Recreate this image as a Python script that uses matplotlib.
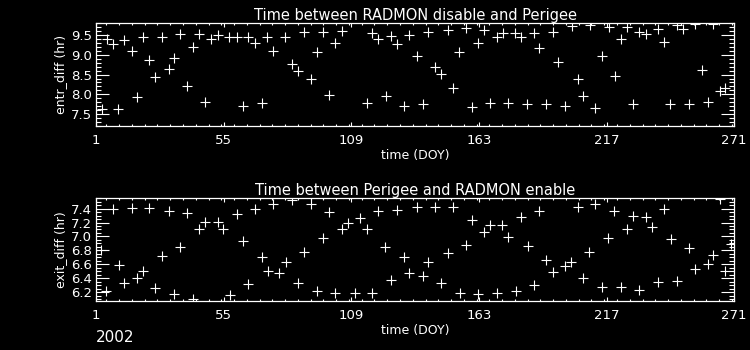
"""RADMON disable/enable timing vs perigee, 2002"""
import numpy as np, matplotlib
matplotlib.use('Agg')
import matplotlib.pyplot as plt
from matplotlib.ticker import MultipleLocator, FixedLocator

# ── data (DOY, hours) ──
entr_doy = [3.4, 5.5, 8.1, 10.4, 13.0, 16.1, 18.5, 21.0, 23.6, 26.1, 29.1, 31.8, 34.1, 36.7, 39.4, 42.2,
            44.7, 47.3, 49.8, 52.6, 57.4, 60.5, 63.1, 65.3, 68.2, 71.1, 73.5, 76.0, 81.0, 84.1, 86.6, 89.2,
            91.9, 94.4, 97.2, 99.7, 102.3, 105.0, 115.5, 117.8, 120.5, 123.5, 126.0, 128.5, 131.2, 133.6,
            136.7, 139.3, 141.6, 144.2, 146.8, 149.8, 152.2, 154.7, 157.4, 160.0, 162.5, 165.3, 167.7,
            170.5, 173.1, 175.5, 178.3, 180.7, 183.5, 186.1, 188.6, 191.4, 194.3, 196.6, 199.2, 202.3,
            204.7, 207.2, 210.1, 212.2, 215.0, 218.2, 220.4, 223.0, 225.6, 228.0, 230.8, 233.6, 238.7,
            241.3, 243.9, 246.8, 249.3, 251.7, 254.2, 257.3, 259.7, 262.2, 264.8, 267.2]
entr_diff = [7.62, 9.39, 9.27, 7.62, 9.37, 9.09, 7.94, 9.46, 8.88, 8.44, 9.46, 8.63, 8.93, 9.52, 8.21, 9.20,
             9.52, 7.80, 9.39, 9.49, 9.44, 9.44, 7.71, 9.46, 9.30, 7.77, 9.46, 9.09, 9.46, 8.77, 8.59, 9.57,
             8.40, 9.06, 9.57, 7.99, 9.29, 9.61, 7.77, 9.54, 9.39, 7.95, 9.48, 9.26, 7.71, 9.50,
             8.97, 7.75, 9.58, 8.68, 8.51, 9.63, 8.15, 9.06, 9.67, 7.67, 9.29, 9.63, 7.77,
             9.44, 9.56, 7.77, 9.56, 9.46, 7.75, 9.56, 9.16, 7.75, 9.58, 8.81, 7.71, 9.73,
             8.38, 7.96, 9.75, 7.66, 8.97, 9.71, 8.46, 9.39, 9.71, 7.75, 9.58, 9.52, 9.64,
             9.33, 7.75, 9.74, 9.65, 7.75, 9.78, 8.61, 7.80, 9.78, 8.09, 8.15]

exit_doy = [3.0, 5.2, 8.1, 10.6, 13.0, 16.1, 18.5, 21.0, 23.6, 26.1, 29.1, 31.8, 34.1, 36.7, 39.4, 42.2,
            44.7, 47.3, 52.4, 54.9, 57.7, 60.5, 63.1, 65.5, 68.2, 71.1, 73.6, 76.0, 78.6, 81.3, 84.1, 86.6,
            89.2, 91.9, 94.4, 97.2, 99.7, 102.3, 105.0, 107.5, 110.4, 112.7, 115.5, 117.8, 120.5, 123.4,
            126.0, 128.5, 131.2, 133.6, 136.6, 139.2, 141.5, 144.2, 146.8, 149.7, 152.2, 155.0, 157.4,
            160.0, 162.5, 165.3, 167.7, 170.5, 172.6, 175.5, 178.6, 180.8, 183.6, 186.4, 188.6, 191.4,
            194.3, 199.2, 202.0, 204.7, 207.2, 209.7, 212.2, 215.0, 217.8, 220.3, 223.0, 225.6, 228.1,
            230.9, 233.6, 236.0, 238.7, 241.3, 244.1, 246.8, 251.7, 254.2, 259.7, 262.2, 265.1, 267.2, 269.7]
exit_diff = [6.81, 6.22, 7.39, 6.59, 6.34, 7.41, 6.40, 6.50, 7.41, 6.26, 6.72, 7.36, 6.18, 6.85, 7.33, 6.10,
             7.10, 7.21, 7.21, 7.10, 6.16, 7.32, 6.93, 6.32, 7.39, 6.70, 6.50, 7.47, 6.47, 6.63, 7.52, 6.34,
             6.78, 7.47, 6.22, 6.98, 7.35, 6.19, 7.10, 7.19, 6.19, 7.26, 7.10, 6.19, 7.36, 6.85,
             6.38, 7.38, 6.71, 6.47, 7.42, 6.44, 6.64, 7.42, 6.33, 6.76, 7.42, 6.19, 6.88,
             7.24, 6.17, 7.06, 7.17, 6.19, 7.17, 6.99, 6.22, 7.28, 6.87, 6.30, 7.36, 6.66,
             6.49, 6.57, 6.63, 7.42, 6.40, 6.78, 7.47, 6.27, 6.98, 7.37, 6.27, 7.11, 7.29,
             6.23, 7.28, 7.13, 6.35, 7.40, 6.96, 6.36, 6.83, 6.54, 6.60, 6.74, 7.53, 6.50, 6.89]

xticks = [1, 55, 109, 163, 217, 271]

fig = plt.figure(figsize=(7.5, 3.5), dpi=100, facecolor='black')
ax1 = fig.add_axes([0.128, 0.640, 0.851, 0.294])
ax2 = fig.add_axes([0.128, 0.140, 0.851, 0.294])

panels = [(ax1, entr_doy, entr_diff, 'Time between RADMON disable and Perigee', 'entr_diff (hr)', (7.2, 9.8), 0.5, 0.1),
          (ax2, exit_doy, exit_diff, 'Time between Perigee and RADMON enable', 'exit_diff (hr)', (6.075, 7.55), 0.2, 0.05)]
for ax, xd, yd, title, ylab, ylim, ymaj, ymin in panels:
    ax.set_facecolor('black')
    ax.plot(xd, yd, linestyle='none', marker='+', color='white', markersize=7, markeredgewidth=0.8)
    ax.set_xlim(1, 271); ax.set_ylim(*ylim)
    ax.xaxis.set_major_locator(FixedLocator(xticks))
    ax.xaxis.set_minor_locator(MultipleLocator(5.4))
    ax.yaxis.set_major_locator(MultipleLocator(ymaj))
    ax.yaxis.set_minor_locator(MultipleLocator(ymin))
    ax.yaxis.set_major_formatter(matplotlib.ticker.FormatStrFormatter('%.1f'))
    ax.tick_params(axis='both', which='both', direction='in', colors='white', top=True, right=True, labelsize=9.5, width=0.8)
    ax.tick_params(axis='x', which='major', length=3, pad=6)
    ax.tick_params(axis='x', which='minor', length=1.5)
    ax.tick_params(axis='y', which='major', length=9.5, pad=3)
    ax.tick_params(axis='y', which='minor', length=3.5)
    for s in ax.spines.values(): s.set_color('white'); s.set_linewidth(0.9)
    ax.set_title(title, color='white', fontsize=10.5, pad=2)
    ax.set_xlabel('time (DOY)', color='white', fontsize=9, labelpad=1)
    ax.set_ylabel(ylab, color='white', fontsize=9, labelpad=3)

fig.text(0.128, 0.022, '2002', color='white', fontsize=11)
plt.savefig('out.png', dpi=100, facecolor='black')
plt.close()
